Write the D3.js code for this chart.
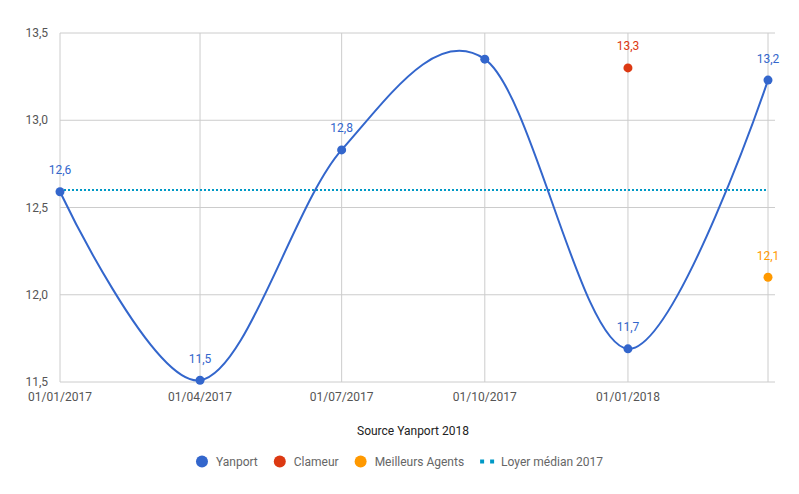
<!DOCTYPE html>
<html>
<head>
<meta charset="utf-8">
<script src="https://cdn.jsdelivr.net/npm/d3@7"></script>
<style>
  body { margin: 0; background: #fff; }
  text { font-family: Roboto, "Noto Sans", sans-serif; }
</style>
</head>
<body>
<div id="chart"></div>
<script>
// data
var dates = ['2017-01-01', '2017-04-01', '2017-07-01', '2017-10-01', '2018-01-01', '2018-04-01'];
var yanport = [12.59, 11.51, 12.83, 13.35, 11.69, 13.23];
var yanportHiddenLabels = [3];          // the 13,35 point has no annotation
var clameur = [{date: '2018-01-01', value: 13.30}];
var meilleursAgents = [{date: '2018-04-01', value: 12.10}];
var loyerMedian = 12.6;
var yTicks = [11.5, 12.0, 12.5, 13.0, 13.5];
var xTickLabels = ['01/01/2017', '01/04/2017', '01/07/2017', '01/10/2017', '01/01/2018', ''];
var legendItems = ['Yanport', 'Clameur', 'Meilleurs Agents', 'Loyer médian 2017'];
var colors = ['#3366cc', '#dc3912', '#ff9900', '#0099c6'];

var width = 799, height = 494;
var plotLeft = 60, plotRight = 768, gridRight = 775, plotTop = 33, plotBottom = 382;

var parse = d3.timeParse('%Y-%m-%d');
var fmt = function (v) { return d3.format('.1f')(v).replace('.', ','); };

var svg = d3.select('#chart').append('svg')
    .attr('width', width)
    .attr('height', height);

var x = d3.scaleTime()
    .domain([parse(dates[0]), parse(dates[dates.length - 1])])
    .range([plotLeft, plotRight]);

var y = d3.scaleLinear()
    .domain([11.5, 13.5])
    .range([plotBottom, plotTop]);

// horizontal grid + y labels
svg.selectAll('.hgrid')
    .data(yTicks)
    .enter().append('line')
    .attr('x1', plotLeft).attr('x2', gridRight)
    .attr('y1', function (d) { return y(d); })
    .attr('y2', function (d) { return y(d); })
    .style('stroke', '#cccccc').style('stroke-width', 1);

svg.selectAll('.ylab')
    .data(yTicks)
    .enter().append('text')
    .attr('x', 48)
    .attr('y', function (d) { return y(d) + 4; })
    .attr('text-anchor', 'end')
    .style('font-size', '12px')
    .style('fill', '#555')
    .text(function (d) { return fmt(d); });

// vertical grid + x labels
svg.selectAll('.vgrid')
    .data(dates)
    .enter().append('line')
    .attr('x1', function (d) { return x(parse(d)); })
    .attr('x2', function (d) { return x(parse(d)); })
    .attr('y1', plotTop).attr('y2', plotBottom)
    .style('stroke', '#cccccc').style('stroke-width', 1);

svg.selectAll('.xlab')
    .data(dates)
    .enter().append('text')
    .attr('x', function (d) { return x(parse(d)); })
    .attr('y', 401)
    .attr('text-anchor', 'middle')
    .style('font-size', '12px')
    .style('fill', '#555')
    .text(function (d, i) { return xTickLabels[i]; });

// median line
svg.append('line')
    .attr('x1', plotLeft).attr('x2', plotRight)
    .attr('y1', y(loyerMedian)).attr('y2', y(loyerMedian))
    .style('stroke', colors[3])
    .style('stroke-width', 2)
    .style('stroke-dasharray', '2,2');

// yanport curve
var pts = dates.map(function (d, i) { return {date: parse(d), value: yanport[i], i: i}; });

var line = d3.line()
    .x(function (d) { return x(d.date); })
    .y(function (d) { return y(d.value); })
    .curve(d3.curveCardinal.tension(0));

svg.append('path')
    .datum(pts)
    .attr('d', line)
    .style('fill', 'none')
    .style('stroke', colors[0])
    .style('stroke-width', 2);

function drawPoints(data, color) {
    svg.selectAll(null)
        .data(data)
        .enter().append('circle')
        .attr('cx', function (d) { return x(d.date); })
        .attr('cy', function (d) { return y(d.value); })
        .attr('r', 4.5)
        .style('fill', color);

    svg.selectAll(null)
        .data(data.filter(function (d) { return !d.hide; }))
        .enter().append('text')
        .attr('x', function (d) { return x(d.date); })
        .attr('y', function (d) { return y(d.value) - 17.5; })
        .attr('text-anchor', 'middle')
        .style('font-size', '12px')
        .style('fill', color)
        .text(function (d) { return fmt(d.value); });
}

pts.forEach(function (p) { p.hide = yanportHiddenLabels.indexOf(p.i) >= 0; });
drawPoints(pts, colors[0]);
drawPoints(clameur.map(function (d) { return {date: parse(d.date), value: d.value}; }), colors[1]);
drawPoints(meilleursAgents.map(function (d) { return {date: parse(d.date), value: d.value}; }), colors[2]);

// title under the axis
svg.append('text')
    .attr('x', 413).attr('y', 435)
    .attr('text-anchor', 'middle')
    .style('font-size', '12px')
    .style('fill', '#222')
    .text('Source Yanport 2018');

// legend, centred
var legend = svg.append('g');
var lx = 0;
legendItems.forEach(function (name, i) {
    var g = legend.append('g').attr('transform', 'translate(' + lx + ',0)');
    if (i < 3) {
        g.append('circle').attr('cx', 6).attr('cy', 0).attr('r', 6).style('fill', colors[i]);
    } else {
        g.append('line').attr('x1', 0).attr('x2', 14).attr('y1', 0).attr('y2', 0)
            .style('stroke', colors[i]).style('stroke-width', 4)
            .style('stroke-dasharray', '4,6');
    }
    var t = g.append('text')
        .attr('x', i < 3 ? 20 : 21).attr('y', 4)
        .style('font-size', '12px')
        .style('fill', '#666')
        .text(name);
    lx += (i < 3 ? 20 : 21) + t.node().getComputedTextLength() + 16;
});
lx -= 16;
legend.attr('transform', 'translate(' + ((width - lx) / 2) + ',461.5)');
</script>
</body>
</html>
